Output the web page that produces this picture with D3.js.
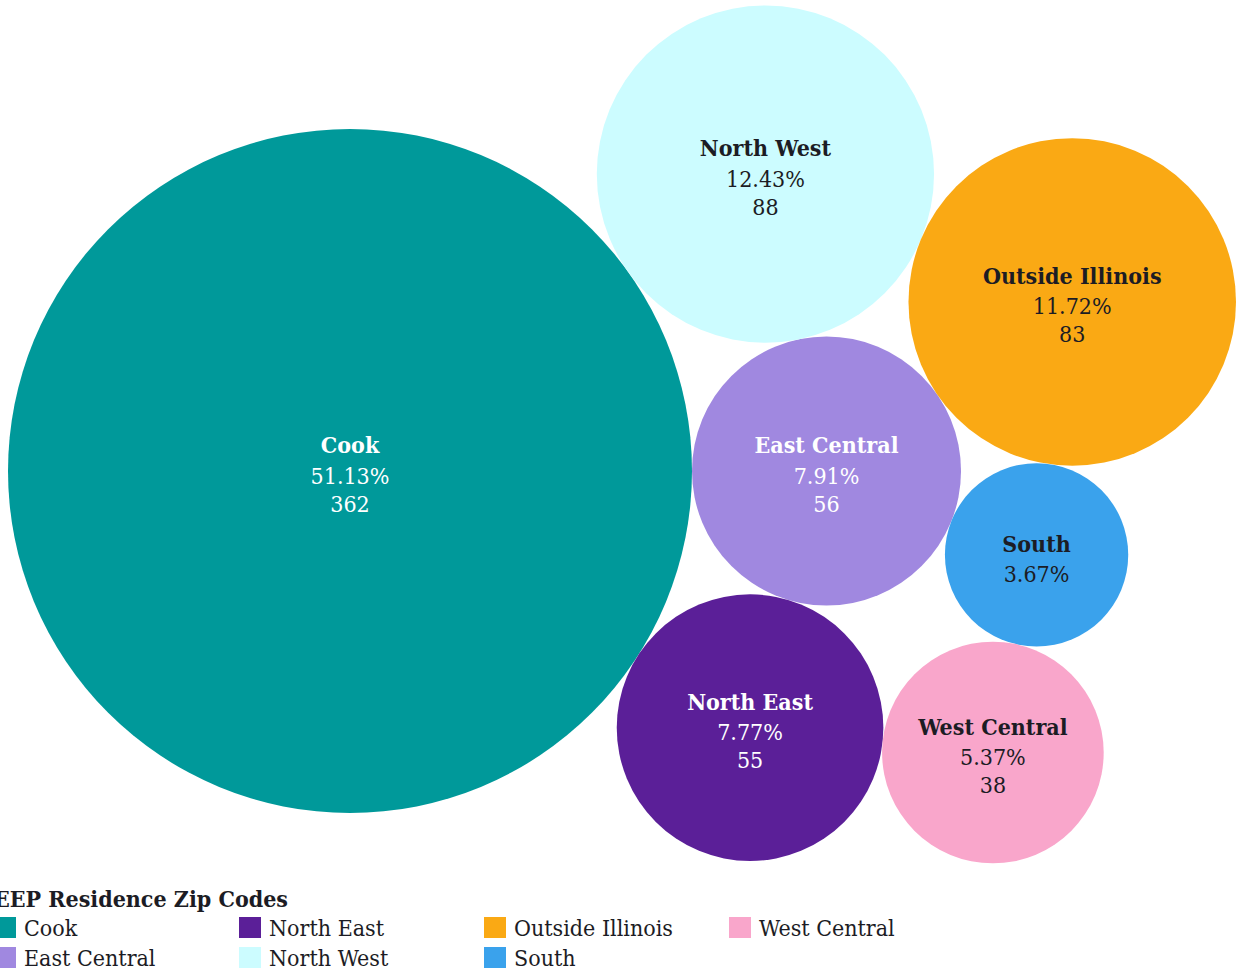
<!DOCTYPE html>
<html>
<head>
<meta charset="utf-8">
<script src="https://cdn.jsdelivr.net/npm/d3@7"></script>
<style>
  html, body { margin: 0; padding: 0; background: #fff; overflow: hidden; }
  svg { display: block; }
  text { font-family: "DejaVu Serif Condensed", "DejaVu Serif", serif; }
</style>
</head>
<body>
<svg id="chart" width="1236" height="970"></svg>
<script>
// Residence regions (legend order) and participant counts
const regions = ["Cook", "East Central", "North East", "North West", "Outside Illinois", "South", "West Central"];
const counts  = [362, 56, 55, 88, 83, 26, 38];
const colors  = ["#00999a", "#a088e0", "#5b1f98", "#ccfcff", "#faa914", "#3aa2ec", "#f9a6cb"];
const labelColors = ["#ffffff", "#ffffff", "#ffffff", "#1c1c24", "#1c1c24", "#1c1c24", "#1c1c24"];
const showCount = [true, true, true, true, true, false, true];
const legendTitle = "EEP Residence Zip Codes";

const total = d3.sum(counts);
const nodes = regions.map((name, i) => ({
  name, value: counts[i], color: colors[i], ink: labelColors[i], showCount: showCount[i],
  pct: d3.format(".2f")(counts[i] / total * 100) + "%"
}));
const byName = Object.fromEntries(nodes.map(n => [n.name, n]));

const svg = d3.select("#chart");

// bubble area proportional to count
const r = d3.scaleSqrt().domain([0, d3.max(counts)]).range([0, 342]);
nodes.forEach(n => n.r = r(n.value));

// Place circle c tangent to a and b; side = +1 / -1 picks which side of a->b
function tangent(c, a, b, side) {
  const dx = b.x - a.x, dy = b.y - a.y;
  const d = Math.hypot(dx, dy);
  const da = a.r + c.r, db = b.r + c.r;
  const along = (da * da - db * db + d * d) / (2 * d);
  const h = Math.sqrt(Math.max(0, da * da - along * along));
  const ux = dx / d, uy = dy / d;
  c.x = a.x + along * ux - side * h * uy;
  c.y = a.y + along * uy + side * h * ux;
}

// packed arrangement around the largest bubble
const cook = byName["Cook"];
cook.x = 0; cook.y = 0;
const ec = byName["East Central"];
ec.x = cook.r + ec.r; ec.y = 0;
tangent(byName["North West"], cook, ec, -1);
tangent(byName["North East"], cook, ec, +1);
tangent(byName["Outside Illinois"], byName["North West"], ec, -1);
tangent(byName["South"], ec, byName["Outside Illinois"], +1);
tangent(byName["West Central"], byName["North East"], byName["South"], +1);

const plot = svg.append("g").attr("transform", "translate(350,471)");

const bubble = plot.selectAll("g.bubble")
  .data(nodes)
  .join("g")
  .attr("class", "bubble")
  .attr("transform", d => `translate(${d.x},${d.y})`);

bubble.append("circle")
  .attr("r", d => d.r)
  .attr("fill", d => d.color);

const lineH = 29.5;
bubble.each(function(d) {
  const lines = [{ t: d.name, bold: true }, { t: d.pct }];
  if (d.showCount) lines.push({ t: String(d.value) });
  const start = 3 - (lines.length - 1) * lineH / 2;
  d3.select(this).selectAll("text")
    .data(lines)
    .join("text")
    .attr("text-anchor", "middle")
    .attr("dominant-baseline", "central")
    .attr("y", (l, i) => start + i * lineH + (i === 1 ? 1.5 : 0))
    .attr("fill", d.ink)
    .attr("font-size", 23)
    .attr("font-weight", l => l.bold ? 700 : 400)
    .text(l => l.t);
});

// legend
const legend = svg.append("g").attr("transform", "translate(-6,0)");
legend.append("text")
  .attr("x", 0).attr("y", 907)
  .attr("font-size", 23).attr("font-weight", 700)
  .attr("fill", "#1c1c24")
  .text(legendTitle);

const item = legend.selectAll("g.item")
  .data(nodes)
  .join("g")
  .attr("class", "item")
  .attr("transform", (d, i) => `translate(${Math.floor(i / 2) * 245},${917 + (i % 2) * 30})`);
item.append("rect")
  .attr("width", 22).attr("height", 21)
  .attr("fill", d => d.color);
item.append("text")
  .attr("x", 30).attr("y", 11)
  .attr("dominant-baseline", "central")
  .attr("font-size", 23)
  .attr("fill", "#1c1c24")
  .text(d => d.name);
</script>
</body>
</html>
